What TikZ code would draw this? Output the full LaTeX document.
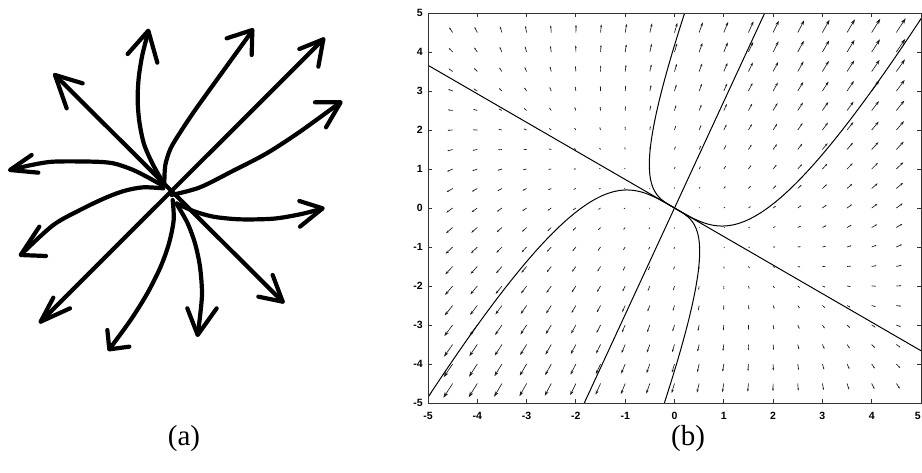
\documentclass[tikz,border=0pt]{standalone}
\usepackage{fontspec}
\setmainfont{Liberation Serif}
\newfontfamily\ticksf{Liberation Sans}
\usetikzlibrary{arrows.meta}
\tikzset{
  hand/.style={line width=4.2pt, line cap=round, line join=round},
  fieldarrow/.style={line width=0.65pt, black!90},
  traj/.style={line width=1pt, black},
  frameline/.style={line width=1pt, black!80},
  ticklab/.style={font=\ticksf\bfseries\fontsize{10.5}{11}\selectfont, inner sep=0pt},
  caption/.style={font=\fontsize{29}{30}\selectfont, inner sep=0pt}
}
\begin{document}
\begin{tikzpicture}[x=1pt,y=-1pt]
\useasboundingbox (0,0) rectangle (922,472);
\fill[white] (0,0) rectangle (922,472);

% ---------- panel (a) ----------
\begin{scope}[x=0.33333pt,y=-0.33333pt, hand]
  % straight double-headed lines
  \draw (122,965) -- (970,118);
  \draw (898,147) -- (970,118) -- (955,200);
  \draw (160,893) -- (122,965) -- (210,925);
  \draw (165,225) -- (848,905);
  \draw (248,250) -- (165,225) -- (200,325);
  \draw (775,890) -- (848,905) -- (818,825);
  % curved arrows
  \draw plot[smooth] coordinates {(492,552) (458,492) (432,432) (418,365) (413,300) (416,235) (427,165) (445,95)};
  \draw (383,162) -- (445,92) -- (472,188);
  \draw plot[smooth] coordinates {(493,548) (496,495) (512,445) (542,395) (582,335) (632,265) (692,182) (757,92)};
  \draw (680,115) -- (757,90) -- (755,165);
  \draw plot[smooth] coordinates {(515,585) (600,562) (700,512) (800,460) (900,395) (1020,308)};
  \draw (945,307) -- (1022,307) -- (978,382);
  \draw plot[smooth] coordinates {(530,610) (580,633) (640,650) (720,658) (820,656) (900,643) (966,626)};
  \draw (898,603) -- (968,625) -- (900,680);
  \draw plot[smooth] coordinates {(530,612) (562,668) (585,730) (600,800) (606,880) (600,950) (593,1003)};
  \draw (562,925) -- (593,1005) -- (650,925);
  \draw plot[smooth] coordinates {(518,600) (521,660) (507,730) (482,800) (442,880) (392,960) (330,1045)};
  \draw (322,990) -- (328,1048) -- (388,1040);
  \draw plot[smooth] coordinates {(490,565) (430,562) (375,572) (320,592) (250,625) (160,675) (64,763)};
  \draw (118,680) -- (62,765) -- (138,768);
  \draw plot[smooth] coordinates {(485,555) (440,530) (395,508) (340,490) (280,485) (160,485) (90,496) (32,510)};
  \draw (95,465) -- (30,510) -- (115,518);
\end{scope}

% ---------- panel (b) ----------
\begin{scope}[shift={(674.5,208)}, x=49.3pt, y=39pt]
  % vector field
  \foreach \i in {0,...,18}{
    \foreach \j in {0,...,18}{
      \pgfmathsetmacro\xx{-4.5+0.5*\i}
      \pgfmathsetmacro\yy{-4.5+0.5*\j}
      \pgfmathsetmacro\vx{0.019*(1.507*\xx+0.693*\yy)}
      \pgfmathsetmacro\vy{0.019*(1.386*\xx+2.893*\yy)}
      \pgfmathsetmacro\L{sqrt((49.3*\vx)*(49.3*\vx)+(39*\vy)*(39*\vy))}
      \pgfmathsetmacro\hl{max(0.35*\L,0.6)}
      \pgfmathsetmacro\hw{0.65*\hl}
      \draw[fieldarrow, -{Stealth[length=\hl pt, width=\hw pt]}] (\xx,\yy) -- ++(\vx,\vy);
    }
  }
  % trajectories
  \begin{scope}
    \clip (-5,-5) rectangle (5,5);
    \draw[traj] (-5,3.66) -- (5,-3.66);
    \draw[traj] (-1.83,-5) -- (1.83,5);
    \draw[traj] plot[domain=0.01:2.7, samples=90, variable=\t]
      ({\t + 0.103*\t^3.4}, {-0.732*\t + 2.732*0.103*\t^3.4});
    \draw[traj] plot[domain=0.01:2.7, samples=90, variable=\t]
      ({-\t - 0.103*\t^3.4}, {0.732*\t - 2.732*0.103*\t^3.4});
    \draw[traj] plot[domain=0.01:1.35, samples=90, variable=\t]
      ({-\t + 0.64*\t^3.4}, {0.732*\t + 2.732*0.64*\t^3.4});
    \draw[traj] plot[domain=0.01:1.35, samples=90, variable=\t]
      ({\t - 0.64*\t^3.4}, {-0.732*\t - 2.732*0.64*\t^3.4});
  \end{scope}
  % frame and ticks
  \draw[frameline] (-5,-5) rectangle (5,5);
  \foreach \k in {-4,...,4}{
    \draw[frameline] (\k,-5) -- ++(0,0.1);
    \draw[frameline] (\k,5) -- ++(0,-0.1);
    \draw[frameline] (-5,\k) -- ++(0.08,0);
    \draw[frameline] (5,\k) -- ++(-0.08,0);
  }
  \foreach \k in {-5,...,5}{
    \node[ticklab, anchor=east] (yl\k) at ([xshift=-5pt]-5,\k) {\k};
  }
  \foreach \k in {-5,...,4}{
    \node[ticklab] (xl\k) at ([yshift=-13pt]\k,-5) {\k};
  }
  \node[ticklab, anchor=east] (xl5) at ([yshift=-13pt]5,-5) {5};
\end{scope}

\node[caption] (capa) at (184,439) {(a)};
\node[caption] (capb) at (688,439) {(b)};
\end{tikzpicture}
\end{document}
